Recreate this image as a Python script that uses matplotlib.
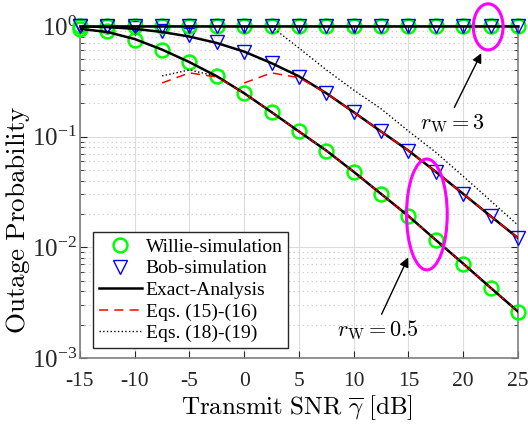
import numpy as np
import matplotlib
matplotlib.use("Agg")
import matplotlib.pyplot as plt
from matplotlib.patches import Ellipse

plt.rcParams['font.family'] = ['Liberation Serif', 'DejaVu Serif']
plt.rcParams['mathtext.fontset'] = 'stix'
plt.rcParams['axes.unicode_minus'] = False

# SNR grid (dB)
snr = [-15, -12.5, -10, -7.5, -5, -2.5, 0, 2.5, 5, 7.5, 10, 12.5, 15, 17.5, 20, 22.5, 25]

# r_W = 0.5
willie_sim = [0.93, 0.89, 0.75, 0.61, 0.475, 0.35, 0.245, 0.167, 0.112, 0.0746, 0.048,
              0.0303, 0.0191, 0.0116, 0.0071, 0.0043, 0.00262]
bob_sim = [0.99, 0.98, 0.95, 0.89, 0.83, 0.71, 0.585, 0.46, 0.345, 0.245, 0.167,
           0.112, 0.0746, 0.0475, 0.0303, 0.0191, 0.0121]
willie_exact = [0.94, 0.88, 0.76, 0.61, 0.47, 0.35, 0.246, 0.166, 0.111, 0.0746, 0.048,
                0.0303, 0.0191, 0.0116, 0.0071, 0.0043, 0.00262]
bob_exact = [0.99, 0.975, 0.94, 0.88, 0.80, 0.70, 0.585, 0.46, 0.35, 0.246, 0.166,
             0.111, 0.0746, 0.048, 0.0303, 0.0191, 0.0121]

# r_W = 3 (outage ~ 1)
willie_sim3 = [1.0] * len(snr)
bob_sim3 = [1.0] * len(snr)
exact3 = [1.0] * len(snr)

# Eqs. (15)-(16)
snr_w15 = [-7.5, -5, -2.5, 0, 2.5, 5, 7.5, 10, 12.5, 15, 17.5, 20, 22.5, 25]
willie_eq15 = [0.305, 0.376, 0.345, 0.246, 0.166, 0.111, 0.0746, 0.048, 0.0303, 0.0191,
               0.0116, 0.0071, 0.0043, 0.00262]
snr_b15 = [0, 2.5, 5, 7.5, 10, 12.5, 15, 17.5, 20, 22.5, 25]
bob_eq15 = [0.305, 0.376, 0.34, 0.246, 0.166, 0.111, 0.0746, 0.048, 0.0303, 0.0191, 0.0121]

# Eqs. (18)-(19)
snr_w18 = [-7.5, -5, -2.5, 0, 2.5, 5, 7.5, 10, 12.5, 15, 17.5, 20, 22.5, 25]
willie_eq18 = [0.353, 0.40, 0.35, 0.246, 0.166, 0.111, 0.0746, 0.048, 0.0303, 0.0191,
               0.0116, 0.0071, 0.0043, 0.00262]
snr_b18 = [2.5, 5, 7.5, 10, 12.5, 15, 17.5, 20, 22.5, 25]
bob_eq18 = [0.98, 0.63, 0.40, 0.263, 0.178, 0.112, 0.072, 0.0437, 0.0263, 0.0158]

fig = plt.figure(figsize=(5.28, 4.24), dpi=100)
ax = fig.add_axes([0.1515, 0.156, 0.8295, 0.783])

green = (0, 1, 0)
blue = (0, 0, 1)

ax.plot(snr, willie_sim, 'o', color=green, mfc='none', ms=10, mew=1.8, clip_on=False,
        label='Willie-simulation', zorder=3)
ax.plot(snr, bob_sim, 'v', color=blue, mfc='none', ms=10.5, mew=1.0, clip_on=False,
        label='Bob-simulation', zorder=3)
ax.plot(snr, willie_sim3, 'o', color=green, mfc='none', ms=10, mew=1.8, clip_on=False, zorder=3)
ax.plot(snr, bob_sim3, 'v', color=blue, mfc='none', ms=10.5, mew=1.0, clip_on=False, zorder=3)

ax.plot(snr, willie_exact, '-', color='k', lw=1.8, label='Exact-Analysis', zorder=4)
ax.plot(snr, bob_exact, '-', color='k', lw=1.8, zorder=4)
ax.plot(snr, exact3, '-', color='k', lw=1.8, clip_on=False, zorder=4)

ax.plot(snr_w15, willie_eq15, '--', color='r', lw=1.1, dashes=(6, 4), label='Eqs. (15)-(16)', zorder=5)
ax.plot(snr_b15, bob_eq15, '--', color='r', lw=1.1, dashes=(6, 4), zorder=5)
ax.plot(snr_w18, willie_eq18, ':', color='k', lw=1.0, label='Eqs. (18)-(19)', zorder=5)
ax.plot(snr_b18, bob_eq18, ':', color='k', lw=1.0, zorder=5)

ax.set_yscale('log')
ax.set_xlim(-15, 25)
ax.set_ylim(1e-3, 1)
ax.set_xticks(np.arange(-15, 26, 5))
ax.set_xticklabels([str(v) for v in range(-15, 26, 5)])

ax.grid(True, which='major', color='#dcdcdc', lw=0.8, ls='-')
ax.grid(True, which='minor', axis='y', color='#c8c8c8', lw=0.8, ls=(0, (1, 3)))
ax.set_axisbelow(True)
ax.tick_params(which='both', direction='in', top=True, right=True, colors='#262626',
               labelcolor='#262626')
ax.tick_params(axis='x', labelsize=15.5, pad=10)
ax.tick_params(axis='y', labelsize=18, pad=2)
ax.tick_params(which='major', length=5)
ax.tick_params(which='minor', length=3)
for sp in ax.spines.values():
    sp.set_color('#7f7f7f')
    sp.set_linewidth(1.2)

ax.set_xlabel(r'$\mathrm{Transmit\ SNR}\ \overline{\gamma}\ [\mathrm{dB}]$',
              fontsize=18, math_fontfamily='cm')
ax.xaxis.set_label_coords(0.495, -0.108)
ax.set_ylabel(r'$\mathrm{Outage\ Probability}$', fontsize=19.5, math_fontfamily='cm')
ax.yaxis.set_label_coords(-0.109, 0.415)

# annotations
ax.add_patch(Ellipse((0.932, 0.997), 0.068, 0.139, transform=ax.transAxes, fill=False,
                     ec='#ff00ff', lw=2.2, clip_on=False, zorder=6))
ax.add_patch(Ellipse((0.792, 0.432), 0.093, 0.334, transform=ax.transAxes, fill=False,
                     ec='#ff00ff', lw=2.2, clip_on=False, zorder=6))
ax.annotate('', xy=(0.919, 0.925), xytext=(0.852, 0.747), xycoords='axes fraction',
            arrowprops=dict(arrowstyle='-|>', color='k', lw=1.0, mutation_scale=14))
ax.text(0.85, 0.705, r'$r_{\mathrm{W}}=3$', transform=ax.transAxes, fontsize=16,
        math_fontfamily='cm', ha='center', va='center')
ax.annotate('', xy=(0.752, 0.31), xytext=(0.686, 0.124), xycoords='axes fraction',
            arrowprops=dict(arrowstyle='-|>', color='k', lw=1.0, mutation_scale=14))
ax.text(0.68, 0.085, r'$r_{\mathrm{W}}=0.5$', transform=ax.transAxes, fontsize=16,
        math_fontfamily='cm', ha='center', va='center')

leg = ax.legend(loc='lower left', bbox_to_anchor=(0.03, 0.03), fontsize=14,
                fancybox=False, edgecolor='#262626', framealpha=1, labelspacing=0.2,
                handlelength=2.2, handletextpad=0.2, borderpad=0.3, borderaxespad=0)
leg.get_frame().set_linewidth(1.0)

fig.savefig('out.png', dpi=100)
